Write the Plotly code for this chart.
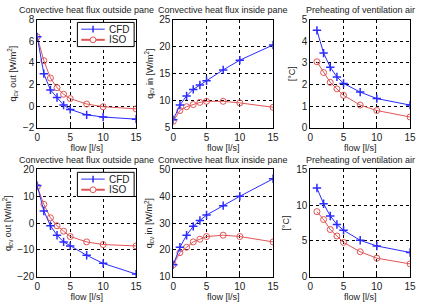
import plotly.graph_objects as go

flow0 = [0, 1, 2, 3, 4, 5, 7.5, 10, 15]
flow1 = [1, 2, 3, 4, 5, 7.5, 10, 15]

# top row
out_cfd_a = [6.4, 3.0, 1.5, 0.8, 0.1, -0.3, -0.8, -1.0, -1.2]
out_iso_a = [6.4, 4.2, 2.6, 1.7, 1.1, 0.7, 0.2, -0.05, -0.25]
in_cfd_a = [6.5, 9.2, 10.9, 12.1, 12.9, 13.7, 15.7, 17.5, 20.3]
in_iso_a = [6.2, 8.2, 8.9, 9.3, 9.7, 9.9, 9.9, 9.6, 8.8]
pre_cfd_a = [4.5, 3.45, 2.8, 2.35, 2.05, 1.65, 1.35, 1.05]
pre_iso_a = [3.05, 2.55, 2.1, 1.8, 1.5, 1.05, 0.8, 0.5]

# bottom row
out_cfd_b = [14, 4.5, -1, -4.5, -7, -8.5, -12, -15, -19]
out_iso_b = [13.5, 7, 2, -1, -3, -5, -7, -8, -8.5]
in_cfd_b = [14.5, 21, 25.5, 28.8, 31, 33, 36.5, 40, 46.5]
in_iso_b = [14.5, 19, 21, 23, 24, 25, 25.5, 25, 23]
pre_cfd_b = [12.4, 10.2, 8.5, 7.3, 6.5, 5.1, 4.3, 3.4]
pre_iso_b = [9.1, 8.0, 6.6, 5.7, 4.8, 3.5, 2.6, 1.8]

titles = ["Convective heat flux outside pane", "Convective heat flux inside pane",
          "Preheating of ventilation air"]
ylabels = ["q<sub>cv</sub> out [W/m<sup>2</sup>]", "q<sub>cv</sub> in [W/m<sup>2</sup>]", "[°C]"]
yranges = [[-2, 8], [5, 25], [0, 5], [-20, 20], [10, 50], [0, 15]]
ydticks = [2, 5, 1, 10, 10, 5]
xtickvals = [0, 5, 10, 15]

W, H = 421, 305
xpix = [(35, 136), (174, 276), (314, 416)]
ypix = [(15, 127), (170, 281)]

BLUE = "#2b2bff"
RED = "#e05555"
font = "Liberation Sans, Arial, sans-serif"

fig = go.Figure()

series = [
    (flow0, out_cfd_a, out_iso_a), (flow0, in_cfd_a, in_iso_a), (flow1, pre_cfd_a, pre_iso_a),
    (flow0, out_cfd_b, out_iso_b), (flow0, in_cfd_b, in_iso_b), (flow1, pre_cfd_b, pre_iso_b),
]

annotations = []
layout_axes = {}
for i in range(6):
    r, c = divmod(i, 3)
    n = i + 1
    xa = "x" if n == 1 else f"x{n}"
    ya = "y" if n == 1 else f"y{n}"
    xs, cfd, iso = series[i]
    fig.add_trace(go.Scatter(x=xs, y=iso, mode="lines+markers", name="ISO",
                             line=dict(color=RED, width=1),
                             marker=dict(symbol="circle-open", size=6, color=RED, line=dict(width=1)),
                             xaxis=xa, yaxis=ya, showlegend=False))
    fig.add_trace(go.Scatter(x=xs, y=cfd, mode="lines+markers", name="CFD",
                             line=dict(color=BLUE, width=1),
                             marker=dict(symbol="cross-thin", size=6, color=BLUE, line=dict(width=1.5, color=BLUE)),
                             xaxis=xa, yaxis=ya, showlegend=False))
    x0, x1 = xpix[c]
    y0, y1 = ypix[r]
    axcommon = dict(showline=True, linecolor="black", linewidth=1, mirror=True,
                    showgrid=True, gridcolor="black", griddash="dot", gridwidth=1,
                    zeroline=False, ticks="inside", ticklen=3, tickcolor="black",
                    tickfont=dict(size=10, color="#222", family=font))
    layout_axes["xaxis" if n == 1 else f"xaxis{n}"] = dict(
        domain=[x0 / W, x1 / W], anchor=ya, range=[0, 15], tickvals=xtickvals,
        title=dict(text="flow [l/s]", font=dict(size=9, color="#222", family=font), standoff=2),
        **axcommon)
    layout_axes["yaxis" if n == 1 else f"yaxis{n}"] = dict(
        domain=[1 - y1 / H, 1 - y0 / H], anchor=xa, range=yranges[i], dtick=ydticks[i],
        title=dict(text=ylabels[c], font=dict(size=9, color="#222", family=font), standoff=4),
        **axcommon)
    annotations.append(dict(text=titles[c], x=(x0 + x1) / 2 / W, y=1 - (y0 - 3) / H,
                            xref="paper", yref="paper", xanchor="center", yanchor="bottom",
                            showarrow=False, font=dict(size=9, color="#222", family=font)))

# legend boxes in left panels
shapes = []
for r in range(2):
    y0 = ypix[r][0]
    top = y0 + 3
    bx0, bx1 = 76, 134
    shapes.append(dict(type="rect", xref="paper", yref="paper",
                       x0=bx0 / W, x1=bx1 / W, y0=1 - (top + 25) / H, y1=1 - top / H,
                       line=dict(color="black", width=1), fillcolor="white", layer="above"))
    for k, (lbl, col) in enumerate([("CFD", BLUE), ("ISO", RED)]):
        yy = top + 7 + k * 11
        shapes.append(dict(type="line", xref="paper", yref="paper",
                           x0=(bx0 + 4) / W, x1=(bx0 + 28) / W, y0=1 - yy / H, y1=1 - yy / H,
                           line=dict(color=col, width=1 if k == 0 else 2), layer="above"))
        annotations.append(dict(text=lbl, x=(bx0 + 30) / W, y=1 - yy / H, xref="paper", yref="paper",
                                xanchor="left", yanchor="middle", showarrow=False,
                                font=dict(size=10, color="#222", family=font)))
    cx = bx0 + 16
    cy = top + 7
    shapes.append(dict(type="line", xref="paper", yref="paper",
                       x0=cx / W, x1=cx / W, y0=1 - (cy - 3.5) / H, y1=1 - (cy + 3.5) / H,
                       line=dict(color=BLUE, width=1.5), layer="above"))
    cy2 = top + 18
    shapes.append(dict(type="circle", xref="paper", yref="paper",
                       x0=(cx - 3) / W, x1=(cx + 3) / W, y0=1 - (cy2 + 3) / H, y1=1 - (cy2 - 3) / H,
                       line=dict(color=RED, width=1), fillcolor="white", layer="above"))

fig.update_layout(width=W, height=H, margin=dict(l=0, r=0, t=0, b=0),
                  paper_bgcolor="white", plot_bgcolor="white",
                  annotations=annotations, shapes=shapes,
                  font=dict(family=font, size=9, color="#222"), **layout_axes)
fig.write_html("out.html")
